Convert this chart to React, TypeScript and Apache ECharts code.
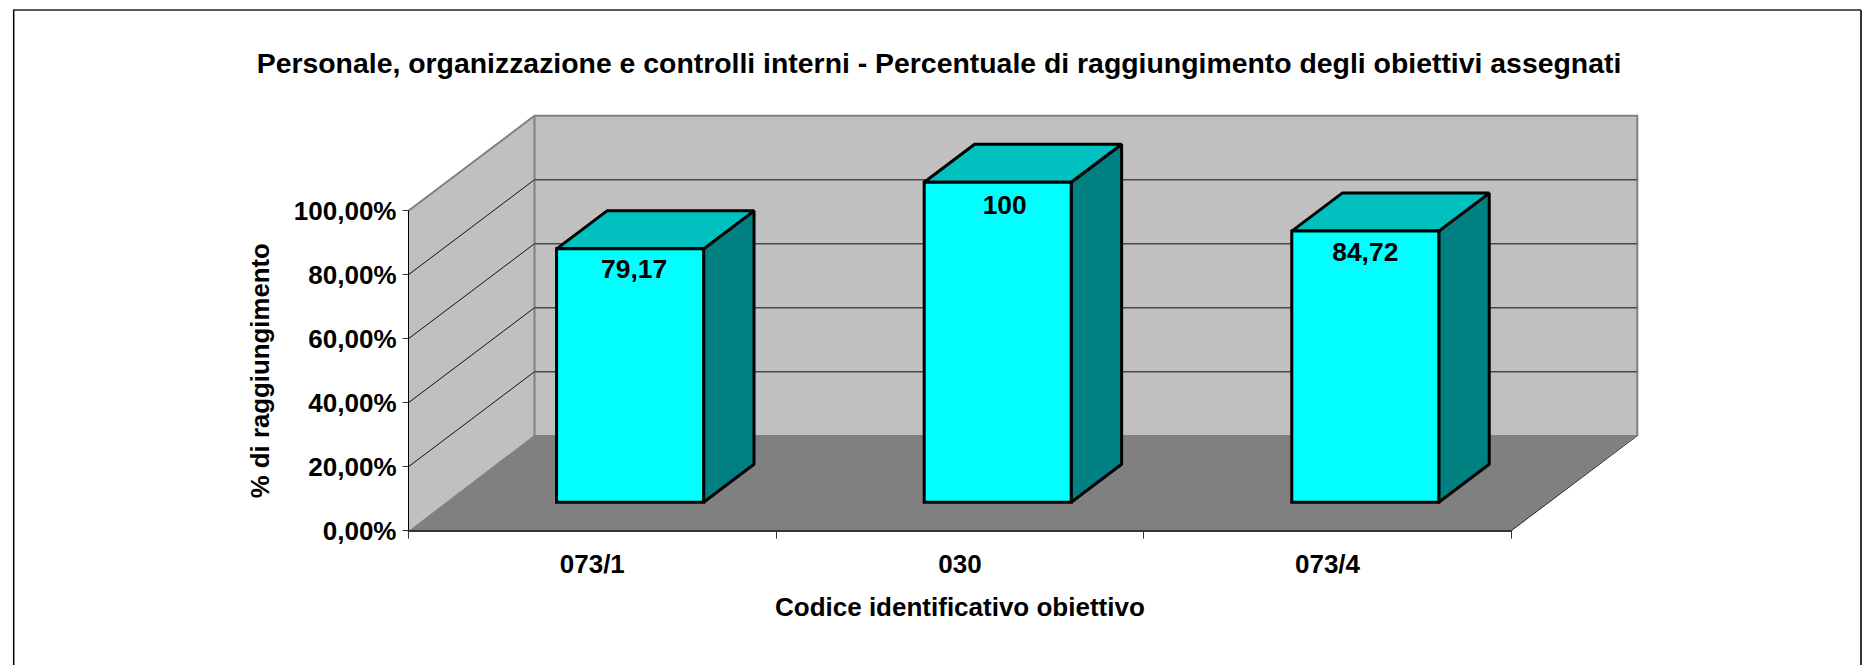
import React, { useEffect, useRef } from "react";
import * as echarts from "echarts";

const chartTitle = "Personale, organizzazione e controlli interni - Percentuale di raggiungimento degli obiettivi assegnati";
const xAxisTitle = "Codice identificativo obiettivo";
const yAxisTitle = "% di raggiungimento";
const categories = ["073/1", "030", "073/4"];
const achieved = [79.17, 100, 84.72];
const gridValues = [20, 40, 60, 80];

const FONT = '"Liberation Sans", Arial, sans-serif';
const DX = 126;
const DY = 95;
const BAR_FRACTION = 0.4;
const BAR_NEAR = 0.3;
const BAR_FAR = 0.7;
const LABEL_SHIFT_X = [4, 7, 0];
const LABEL_SHIFT_Y = [20, 23, 21];

export default function App() {
  const ref = useRef<HTMLDivElement>(null);
  useEffect(() => {
    const chart = echarts.init(ref.current!, undefined, { renderer: "svg" });
    chart.setOption({
      animation: false,
      backgroundColor: "#ffffff",
      title: {
        text: chartTitle,
        left: 934,
        top: 44,
        textAlign: "center",
        textStyle: { fontFamily: FONT, fontWeight: "bold", fontSize: 28.4, color: "#000" },
      },
      graphic: [
        { type: "line", shape: { x1: 13.7, y1: 10, x2: 13.7, y2: 665 }, style: { stroke: "#000", lineWidth: 1.5 } },
        { type: "line", shape: { x1: 13, y1: 10, x2: 1861, y2: 10 }, style: { stroke: "#222", lineWidth: 1.5 } },
        { type: "line", shape: { x1: 1861, y1: 10, x2: 1861, y2: 665 }, style: { stroke: "#333", lineWidth: 2 } },
      ],
      grid: { left: 408.5, top: 210.7, width: 1102.8, height: 320, containLabel: false },
      xAxis: {
        type: "category",
        data: categories,
        z: 10,
        name: xAxisTitle,
        nameLocation: "middle",
        nameGap: 63,
        nameTextStyle: { fontFamily: FONT, fontWeight: "bold", fontSize: 26, color: "#000" },
        axisLine: { lineStyle: { color: "#333", width: 2 } },
        axisTick: { show: true, length: 8, alignWithLabel: false, lineStyle: { color: "#333", width: 1 } },
        axisLabel: { fontFamily: FONT, fontWeight: "bold", fontSize: 26, color: "#000", margin: 20 },
      },
      yAxis: {
        type: "value",
        min: 0,
        max: 100,
        interval: 20,
        z: 10,
        name: yAxisTitle,
        nameLocation: "middle",
        nameGap: 136,
        nameRotate: 90,
        nameTextStyle: { fontFamily: FONT, fontWeight: "bold", fontSize: 25.8, color: "#000" },
        splitLine: { show: false },
        axisLine: { show: true, lineStyle: { color: "#000", width: 1 } },
        axisTick: { show: true, length: 6, lineStyle: { color: "#333", width: 1 } },
        axisLabel: {
          fontFamily: FONT,
          fontWeight: "bold",
          fontSize: 26,
          color: "#000",
          margin: 12,
          formatter: (v: number) => `${v},00%`,
        },
      },
      series: [
        {
          type: "custom",
          z: 1,
          silent: true,
          data: [[0, 0]],
          renderItem: (params: any) => {
            const c = params.coordSys;
            const x0 = c.x;
            const x1 = c.x + c.width;
            const yT = c.y;
            const yB = c.y + c.height;
            const floorBack = yB - DY - 0.7;
            return {
              type: "group",
              children: [
                {
                  type: "polygon",
                  shape: { points: [[x0 + DX, yT - DY], [x1 + DX, yT - DY], [x1 + DX, yB - DY], [x0 + DX, yB - DY]] },
                  style: { fill: "#c0c0c0" },
                },
                {
                  type: "polygon",
                  shape: { points: [[x0, yT], [x0 + DX, yT - DY], [x0 + DX, yB - DY], [x0, yB]] },
                  style: { fill: "#c0c0c0" },
                },
                {
                  type: "polygon",
                  shape: { points: [[x0, yB], [x0 + DX, floorBack], [x1 + DX, floorBack], [x1, yB]] },
                  style: { fill: "#808080" },
                },
                {
                  type: "polyline",
                  shape: { points: [[x0, yT], [x0 + DX, yT - DY], [x1 + DX, yT - DY], [x1 + DX, yB - DY]] },
                  style: { fill: "none", stroke: "#808080", lineWidth: 2 },
                },
                {
                  type: "line",
                  shape: { x1: x0 + DX, y1: yT - DY, x2: x0 + DX, y2: yB - DY },
                  style: { stroke: "#808080", lineWidth: 2 },
                },
                {
                  type: "line",
                  shape: { x1: x1, y1: yB, x2: x1 + DX, y2: yB - DY },
                  style: { stroke: "#222", lineWidth: 1 },
                },
              ],
            };
          },
        },
        {
          type: "custom",
          z: 2,
          silent: true,
          data: gridValues.map((v) => [0, v]),
          renderItem: (params: any, api: any) => {
            const c = params.coordSys;
            const y = api.coord([0, api.value(1)])[1];
            return {
              type: "group",
              children: [
                {
                  type: "line",
                  shape: { x1: c.x, y1: y, x2: c.x + DX, y2: y - DY },
                  style: { stroke: "#111", lineWidth: 1 },
                },
                {
                  type: "line",
                  shape: { x1: c.x + DX, y1: y - DY, x2: c.x + c.width + DX, y2: y - DY },
                  style: { stroke: "#4a4a4a", lineWidth: 1.5 },
                },
              ],
            };
          },
        },
        {
          type: "custom",
          z: 3,
          data: achieved.map((v, i) => [i, v]),
          encode: { x: 0, y: 1 },
          renderItem: (params: any, api: any) => {
            const idx = api.value(0);
            const val = api.value(1);
            const center = api.coord([idx, val]);
            const base = api.coord([idx, 0]);
            const band = api.size([1, 0])[0];
            const w = band * BAR_FRACTION;
            const l = center[0] - w / 2 + DX * BAR_NEAR;
            const r = l + w;
            const top = center[1] - DY * BAR_NEAR;
            const bot = base[1] - DY * BAR_NEAR;
            const ddx = DX * (BAR_FAR - BAR_NEAR);
            const ddy = DY * (BAR_FAR - BAR_NEAR);
            const edge = { stroke: "#000", lineWidth: 3, lineJoin: "bevel" };
            return {
              type: "group",
              children: [
                {
                  type: "polygon",
                  shape: { points: [[r, top], [r + ddx, top - ddy], [r + ddx, bot - ddy], [r, bot]] },
                  style: { fill: "#008080", ...edge },
                },
                {
                  type: "polygon",
                  shape: { points: [[l, top], [l + ddx, top - ddy], [r + ddx, top - ddy], [r, top]] },
                  style: { fill: "#00c0c0", ...edge },
                },
                {
                  type: "polygon",
                  shape: { points: [[l, top], [r, top], [r, bot], [l, bot]] },
                  style: { fill: "#00ffff", ...edge, lineJoin: "miter" },
                },
                {
                  type: "text",
                  style: {
                    text: String(val).replace(".", ","),
                    x: (l + r) / 2 + LABEL_SHIFT_X[idx],
                    y: top + LABEL_SHIFT_Y[idx],
                    textAlign: "center",
                    textVerticalAlign: "middle",
                    fill: "#000",
                    font: `bold 26.4px ${FONT}`,
                  },
                },
              ],
            };
          },
        },
      ],
    });
    return () => chart.dispose();
  }, []);
  return <div ref={ref} style={{ position: "absolute", left: 0, top: 0, width: 1870, height: 665 }} />;
}
